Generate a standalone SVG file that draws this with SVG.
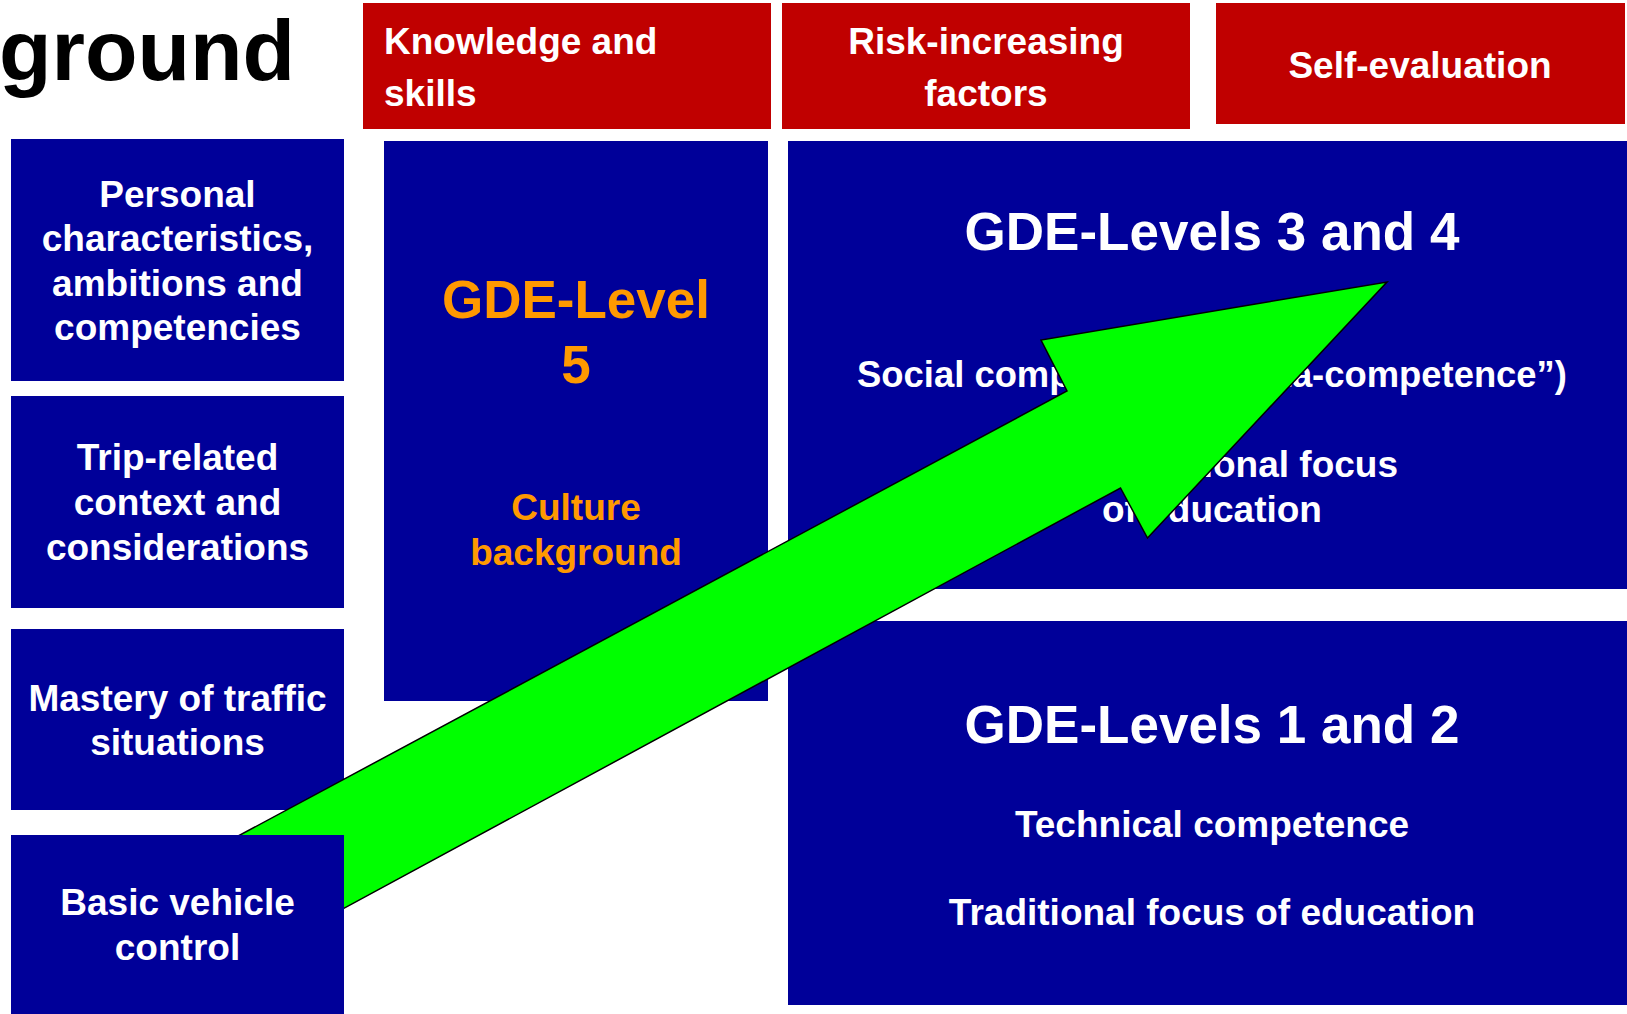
<svg xmlns="http://www.w3.org/2000/svg" width="1627" height="1014" viewBox="0 0 1627 1014">
<style>
.blue{fill:#000099}
.red{fill:#C00000}
text{font-family:"Liberation Sans",Arial,sans-serif;font-weight:bold}
.w{fill:#ffffff;font-size:37px}
.c{text-anchor:middle}
.o{fill:#FF9900}
.h{font-size:53px}
.arrow{fill:#00FF00;stroke:#000000;stroke-width:1.5;stroke-linejoin:miter}
</style>
<rect width="1627" height="1014" fill="#ffffff"/>
<g id="title"><text x="-1" y="80" style="font-size:86px;fill:#000000">ground</text></g>
<g id="hdr-knowledge"><rect class="red" x="363" y="3" width="408" height="126"/><text class="w" x="384" y="54">Knowledge and</text><text class="w" x="384" y="106">skills</text></g>
<g id="hdr-risk"><rect class="red" x="782" y="3" width="408" height="126"/><text class="w c" x="986" y="54">Risk-increasing</text><text class="w c" x="986" y="106">factors</text></g>
<g id="hdr-self"><rect class="red" x="1216" y="3" width="409" height="121"/><text class="w c" x="1420" y="78">Self-evaluation</text></g>
<g id="personal"><rect class="blue" x="11" y="139" width="333" height="242"/><text class="w c" x="177.5" y="207">Personal</text><text class="w c" x="177.5" y="251">characteristics,</text><text class="w c" x="177.5" y="296">ambitions and</text><text class="w c" x="177.5" y="340">competencies</text></g>
<g id="trip"><rect class="blue" x="11" y="396" width="333" height="212"/><text class="w c" x="177.5" y="470">Trip-related</text><text class="w c" x="177.5" y="515">context and</text><text class="w c" x="177.5" y="560">considerations</text></g>
<g id="mastery"><rect class="blue" x="11" y="629" width="333" height="181"/><text class="w c" x="177.5" y="711">Mastery of traffic</text><text class="w c" x="177.5" y="755">situations</text></g>
<g id="gde5"><rect class="blue" x="384" y="141" width="384" height="560"/><text class="o c h" x="576" y="318">GDE-Level</text><text class="o c h" x="576" y="383">5</text><text class="o c" x="576" y="520" style="font-size:37px">Culture</text><text class="o c" x="576" y="565" style="font-size:37px">background</text></g>
<g id="gde34"><rect class="blue" x="788" y="141" width="839" height="448"/><text class="w c h" x="1212" y="250">GDE-Levels 3 and 4</text><text class="w c" x="1212" y="387" style="font-size:36.4px">Social competence (“meta-competence”)</text><text class="w c" x="1212" y="477">Non-traditional focus</text><text class="w c" x="1212" y="522">of education</text></g>
<g id="gde12"><rect class="blue" x="788" y="621" width="839" height="384"/><text class="w c h" x="1212" y="743">GDE-Levels 1 and 2</text><text class="w c" x="1212" y="837">Technical competence</text><text class="w c" x="1212" y="925">Traditional focus of education</text></g>
<g id="connectors"><polygon class="arrow" points="200,856.5 1067,391 1041,340 1387,282 1147.5,538 1120.5,488 254,957"/></g>
<g id="basic"><rect class="blue" x="11" y="835" width="333" height="179"/><text class="w c" x="177.5" y="915">Basic vehicle</text><text class="w c" x="177.5" y="960">control</text></g>
</svg>
